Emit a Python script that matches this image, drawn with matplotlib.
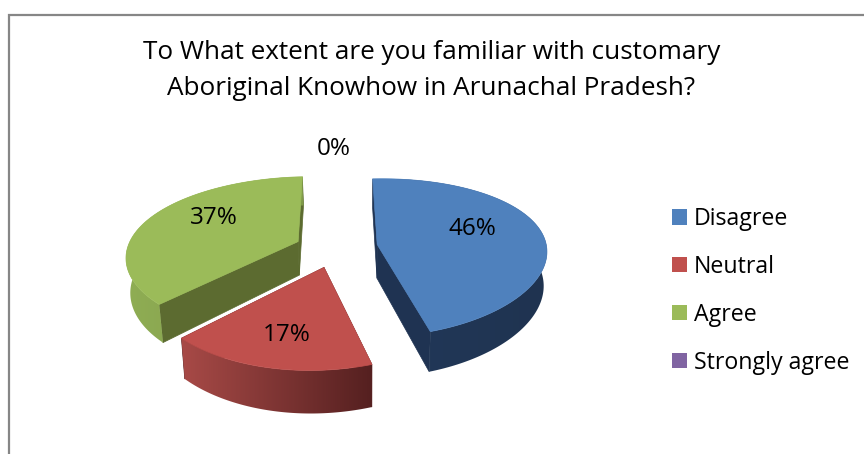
import numpy as np
import matplotlib
matplotlib.use("Agg")
import matplotlib.pyplot as plt
from matplotlib.patches import Patch, Polygon
from matplotlib.colors import to_rgb

categories = ["Disagree", "Neutral", "Agree", "Strongly agree"]
values = [46, 17, 37, 0]
pct_labels = ["46%", "17%", "37%", "0%"]

top_colors = ["#4F81BD", "#C0504D", "#9BBB59", "#8064A2"]
radial_colors = ["#1F3352", "#5A2323", "#5C6B30", "#4D3B62"]
wall_left = ["#22395A", "#A84A47", "#8FAD54", "#6A5387"]
wall_right = ["#1F3350", "#552020", "#7F9A48", "#4D3B62"]
label_xy = [(472, 229), (287, 335), (214, 218), (334, 149)]

CX, CY, RX, RY, K, EXPLODE, DEPTH, VANISH_X, SHRINK = 336, 248, 170, 78, 0.17, 0.245, 34, 366, 0.982
KX = 0.125
PERSP_X = 420
START = -3.5

fig = plt.figure(figsize=(8.64, 4.54), dpi=100, facecolor="white")
ax = fig.add_axes([0, 0, 1, 1])
FONT = "Open Sans"


def project(u, v, low=False):
    s = 1 / (1 + K * v)
    sx = 1 / (1 + KX * v)
    x = PERSP_X + (CX - PERSP_X + RX * u) * sx
    y = CY - RY * v * s
    if low:
        x = VANISH_X + (x - VANISH_X) * SHRINK
        y = y + DEPTH * s
    return x, y


def polar(t):
    return np.sin(np.radians(t)), np.cos(np.radians(t))


def mix(a, b, f):
    a, b = np.array(to_rgb(a)), np.array(to_rgb(b))
    return a + (b - a) * f


total = sum(values)
a = START
wedges = []
for i, val in enumerate(values):
    sweep = 360 * val / total
    wedges.append((i, a, a + sweep))
    a += sweep

for i, a0, a1 in [wedges[2], wedges[0], wedges[1]]:
    mid = (a0 + a1) / 2
    eu, ev = polar(mid)
    ou, ov = EXPLODE * eu, EXPLODE * ev
    ts = np.linspace(a0, a1, 160)
    us = ou + np.sin(np.radians(ts))
    vs = ov + np.cos(np.radians(ts))

    # radial walls
    for t in (a0, a1):
        pu, pv = polar(t)
        pts = [project(ou, ov), project(ou + pu, ov + pv),
               project(ou + pu, ov + pv, True), project(ou, ov, True)]
        ax.fill(*zip(*pts), color=radial_colors[i], lw=0.5, zorder=2)

    # outer wall: a horizontal gradient clipped to the wall outline
    xt, yt = project(us, vs)
    xb, yb = project(us, vs, True)
    grad = np.array([[mix(wall_left[i], wall_right[i], f) for f in np.linspace(0, 1, 256)]])
    im = ax.imshow(grad, extent=(min(xt.min(), xb.min()), max(xt.max(), xb.max()), yb.max(), yt.min()),
                   aspect="auto", zorder=2.1, interpolation="bilinear")
    clip = Polygon(np.c_[np.r_[xt, xb[::-1]], np.r_[yt, yb[::-1]]], closed=True, transform=ax.transData)
    im.set_clip_path(clip)

    # top face
    px, py = project(np.r_[ou, us], np.r_[ov, vs])
    ax.fill(px, py, color=top_colors[i], lw=0.5, zorder=3)

ax.set_xlim(0, 864)
ax.set_ylim(454, 0)
ax.axis("off")

for lab, (x, y) in zip(pct_labels, label_xy):
    ax.text(x, y, lab, ha="center", va="center", fontsize=17.5, family=FONT, color="black", zorder=5)

ax.text(431.5, 70.5, "To What extent are you familiar with customary\nAboriginal Knowhow in Arunachal Pradesh?",
        ha="center", va="center", fontsize=18.85, family=FONT, color="black", linespacing=1.55)

# chart frame (open towards the right and bottom picture edges)
ax.plot([9, 9, 864], [454, 15, 15], color="#868686", lw=1.6, solid_joinstyle="miter", zorder=1)

handles = [Patch(facecolor=c, edgecolor="none") for c in top_colors]
leg = ax.legend(handles, categories, loc="center left", bbox_to_anchor=(663 / 864, 1 - 291 / 454),
                frameon=False, prop={"family": FONT, "size": 16.7}, handlelength=0.62, handleheight=0.62,
                handletextpad=0.3, labelspacing=1.03, borderpad=0.4, borderaxespad=0)

fig.savefig("out.png", dpi=100, facecolor="white")
